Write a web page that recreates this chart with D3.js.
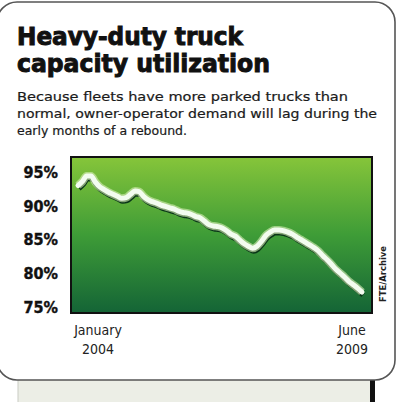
<!DOCTYPE html>
<html>
<head>
<meta charset="utf-8">
<script src="https://cdn.jsdelivr.net/npm/d3@7"></script>
<style>
  body { margin: 0; background: #fff; }
  svg { display: block; }
</style>
</head>
<body>
<svg id="chart" width="400" height="402"></svg>
<script>
// monthly utilization, Jan 2004 .. Jun 2009
const utilization = [
  93.0, 93.6, 94.4, 94.4, 93.5, 92.8, 92.4, 92.0, 91.7, 91.4, 91.1, 91.2,
  91.7, 92.2, 92.1, 91.4, 90.9, 90.6, 90.4, 90.1, 89.9, 89.7, 89.5, 89.2,
  89.0, 88.9, 88.7, 88.4, 88.2, 87.7, 87.2, 87.0, 86.9, 86.7, 86.3, 85.8,
  85.5, 84.9, 84.4, 84.0, 83.7, 84.0, 84.7, 85.6, 86.1, 86.4, 86.4, 86.3,
  86.1, 85.8, 85.4, 85.0, 84.6, 84.2, 83.8, 83.3, 82.6, 82.0, 81.3, 80.6,
  80.0, 79.4, 78.8, 78.3, 77.8, 77.2
];
const months = utilization.map((v, i) => new Date(2004, i, 1));
const yTicks = [75, 80, 85, 90, 95];
const xLabels = [
  { date: new Date(2004, 0, 1), lines: ["January", "2004"] },
  { date: new Date(2009, 5, 1), lines: ["June", "2009"] }
];
const titleLines = ["Heavy-duty truck", "capacity utilization"];
const subtitleLines = [
  "Because fleets have more parked trucks than",
  "normal, owner-operator demand will lag during the",
  "early months of a rebound."
];
const credit = "FTE/Archive";

const svg = d3.select("#chart")
const cond = "'DejaVu Sans Condensed', 'Liberation Sans Narrow', sans-serif"

// strip of the next panel peeking out below
svg.append("rect")
  .attr("x", 18).attr("y", 378)
  .attr("width", 354).attr("height", 30)
  .style("fill", "#eceee6")
  .attr("stroke", "#c9ccc4")
svg.append("rect")
  .attr("x", 370).attr("y", 376)
  .attr("width", 5).attr("height", 30)
  .style("fill", "#111")

// rounded frame
svg.append("rect")
  .attr("x", -3).attr("y", 2)
  .attr("width", 398).attr("height", 378)
  .attr("rx", 20)
  .style("fill", "#fff")
  .attr("stroke", "#555")
  .attr("stroke-width", 1.6)

// title
titleLines.forEach((t, i) => {
  svg.append("text")
    .attr("x", 17).attr("y", 45 + i * 27)
    .attr("textLength", i == 0 ? 226 : 253)
    .attr("lengthAdjust", "spacingAndGlyphs")
    .style("font-family", cond)
    .style("font-weight", "bold")
    .style("font-size", "25px")
    .style("fill", "#111")
    .style("stroke", "#111")
    .style("stroke-width", 0.9)
    .text(t)
})

subtitleLines.forEach((t, i) => {
  svg.append("text")
    .attr("x", 17).attr("y", 101 + i * 17)
    .attr("textLength", [331, 360, 170][i])
    .attr("lengthAdjust", "spacingAndGlyphs")
    .style("font-family", cond)
    .style("font-size", "13px")
    .style("fill", "#1a1a1a")
    .style("stroke", "#1a1a1a")
    .style("stroke-width", 0.2)
    .text(t)
})

// plot
const plot = { left: 71, top: 157, right: 372, bottom: 313 }

const x = d3.scaleTime()
  .domain([months[0], months[months.length - 1]])
  .range([78, 362])
const y = d3.scaleLinear()
  .domain([75, 95])
  .range([307, 172])

const grad = svg.append("defs").append("linearGradient")
  .attr("id", "bg").attr("x1", 0).attr("y1", 0).attr("x2", 0).attr("y2", 1)
grad.append("stop").attr("offset", "0%").attr("stop-color", "#86c53a")
grad.append("stop").attr("offset", "50%").attr("stop-color", "#3e9c37")
grad.append("stop").attr("offset", "100%").attr("stop-color", "#146436")

svg.append("rect")
  .attr("x", plot.left).attr("y", plot.top)
  .attr("width", plot.right - plot.left)
  .attr("height", plot.bottom - plot.top)
  .style("fill", "url(#bg)")
  .attr("stroke", "#111")
  .attr("stroke-width", 2)

const line = d3.line()
  .x((d, i) => x(months[i]))
  .y(d => y(d))
  .curve(d3.curveMonotoneX)

// drop shadow, halo, then the white line
svg.append("path")
  .datum(utilization)
  .attr("d", line)
  .attr("transform", "translate(1,3)")
  .attr("fill", "none")
  .attr("stroke", "#0a3618")
  .attr("stroke-width", 5)
  .attr("stroke-linejoin", "round")
svg.append("path")
  .datum(utilization)
  .attr("d", line)
  .attr("fill", "none")
  .attr("stroke", "#d8eeb8")
  .attr("stroke-opacity", 0.6)
  .attr("stroke-width", 8)
  .attr("stroke-linejoin", "round")
svg.append("path")
  .datum(utilization)
  .attr("d", line)
  .attr("fill", "none")
  .attr("stroke", "#f3fcf0")
  .attr("stroke-width", 5)
  .attr("stroke-linejoin", "round")
  .attr("stroke-linecap", "round")

// y labels
svg.append("g")
  .selectAll("text")
  .data(yTicks)
  .join("text")
  .attr("x", 58)
  .attr("y", d => y(d))
  .attr("dy", "0.36em")
  .attr("text-anchor", "end")
  .style("font-family", cond)
  .style("font-weight", "bold")
  .style("font-size", "16px")
  .style("fill", "#111")
  .style("stroke", "#111")
  .style("stroke-width", 0.4)
  .text(d => d + "%")

// x labels
xLabels.forEach((l, k) => {
  l.lines.forEach((t, i) => {
    svg.append("text")
      .attr("x", x(l.date) + (k == 0 ? 20 : -10))
      .attr("y", 335 + i * 19)
      .attr("text-anchor", "middle")
      .style("font-family", cond)
      .style("font-size", "14px")
      .style("fill", "#222")
      .text(t)
  })
})

// credit, rotated
svg.append("text")
  .attr("transform", "translate(386,302) rotate(-90)")
  .attr("textLength", 56)
  .attr("lengthAdjust", "spacingAndGlyphs")
  .style("font-family", cond)
  .style("font-weight", "bold")
  .style("font-size", "8px")
  .style("fill", "#222")
  .text(credit)
</script>
</body>
</html>
